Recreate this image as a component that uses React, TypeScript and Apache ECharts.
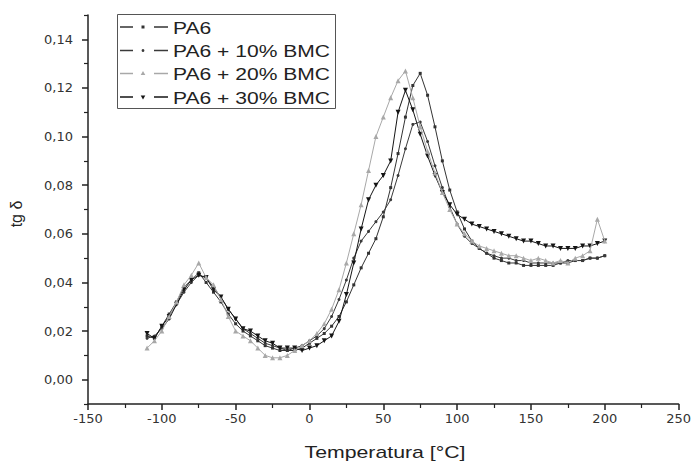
import React, { useEffect, useRef } from "react";
import * as echarts from "echarts";

const temps = [-110,-105,-100,-95,-90,-85,-80,-75,-70,-65,-60,-55,-50,-45,-40,-35,-30,-25,-20,-15,-10,-5,0,5,10,15,20,25,30,35,40,45,50,55,60,65,70,75,80,85,90,95,100,105,110,115,120,125,130,135,140,145,150,155,160,165,170,175,180,185,190,195,200];

const pa6 = [0.018,0.017,0.022,0.027,0.032,0.038,0.041,0.044,0.040,0.036,0.032,0.027,0.023,0.020,0.018,0.016,0.014,0.013,0.012,0.012,0.012,0.013,0.015,0.017,0.019,0.022,0.026,0.032,0.039,0.046,0.052,0.058,0.067,0.079,0.093,0.108,0.121,0.126,0.117,0.104,0.090,0.078,0.069,0.062,0.057,0.054,0.052,0.050,0.049,0.048,0.048,0.047,0.047,0.047,0.047,0.047,0.048,0.048,0.049,0.049,0.050,0.050,0.051];
const pa6bmc10 = [0.017,0.018,0.021,0.025,0.031,0.036,0.040,0.043,0.042,0.038,0.034,0.029,0.025,0.021,0.019,0.017,0.015,0.014,0.013,0.012,0.013,0.014,0.016,0.018,0.021,0.026,0.033,0.041,0.050,0.057,0.061,0.065,0.069,0.074,0.084,0.095,0.105,0.106,0.098,0.088,0.079,0.071,0.064,0.059,0.056,0.054,0.052,0.051,0.050,0.050,0.049,0.049,0.048,0.048,0.048,0.048,0.048,0.049,0.049,0.049,0.050,0.050,0.051];
const pa6bmc20 = [0.013,0.016,0.020,0.026,0.032,0.039,0.043,0.048,0.042,0.039,0.033,0.026,0.020,0.018,0.016,0.013,0.010,0.009,0.009,0.010,0.012,0.014,0.016,0.019,0.023,0.029,0.037,0.048,0.060,0.072,0.086,0.100,0.108,0.116,0.123,0.127,0.116,0.104,0.094,0.085,0.077,0.070,0.064,0.060,0.057,0.055,0.054,0.053,0.052,0.051,0.051,0.050,0.049,0.050,0.049,0.048,0.049,0.048,0.050,0.051,0.053,0.066,0.057];
const pa6bmc30 = [0.019,0.017,0.022,0.026,0.031,0.037,0.041,0.043,0.042,0.037,0.034,0.029,0.025,0.021,0.020,0.018,0.016,0.015,0.013,0.013,0.013,0.012,0.013,0.014,0.016,0.018,0.024,0.035,0.048,0.062,0.074,0.080,0.084,0.090,0.110,0.119,0.111,0.101,0.092,0.084,0.077,0.072,0.068,0.066,0.064,0.063,0.062,0.061,0.060,0.059,0.058,0.057,0.057,0.056,0.055,0.055,0.054,0.054,0.054,0.055,0.055,0.056,0.057];

const seriesNames = ["PA6", "PA6 + 10% BMC", "PA6 + 20% BMC", "PA6 + 30% BMC"];
const yMajorTicks = [0, 0.02, 0.04, 0.06, 0.08, 0.1, 0.12, 0.14];
const yMinorTicks = [-0.01, 0.01, 0.03, 0.05, 0.07, 0.09, 0.11, 0.13, 0.15];

const FONT = "Liberation Sans, Arial, sans-serif";
const LABEL_FONT = "DejaVu Sans, Liberation Sans, sans-serif";

export default function App() {
  const ref = useRef<HTMLDivElement>(null);
  useEffect(() => {
    if (!ref.current) return;
    const chart = echarts.init(ref.current, null, { renderer: "svg" });
    const pair = (vals: number[]) => temps.map((t, i) => [t, vals[i]]);
    const styles = [
      { color: "#333333", symbol: "rect", size: 3, rot: 0 },
      { color: "#3a3a3a", symbol: "circle", size: 3, rot: 0 },
      { color: "#a8a8a8", symbol: "triangle", size: 5, rot: 0 },
      { color: "#151515", symbol: "triangle", size: 5, rot: 180 },
    ];
    const datas = [pa6, pa6bmc10, pa6bmc20, pa6bmc30];
    const axisLine = { show: true, onZero: false, lineStyle: { color: "#222", width: 1.5 } };

    // hand-drawn legend (box, dashes, marker, stretched text)
    const rowY = [27, 50.5, 73.5, 97];
    const legendItems: any[] = [
      { type: "rect", shape: { x: 117.5, y: 14.5, width: 218, height: 94 }, style: { fill: "#fff", stroke: "#555", lineWidth: 1 }, z: 10 },
    ];
    seriesNames.forEach((name, i) => {
      const y = rowY[i];
      const c = styles[i].color;
      legendItems.push({ type: "line", shape: { x1: 120, y1: y, x2: 133, y2: y }, style: { stroke: c, lineWidth: 1.5 }, z: 11 });
      legendItems.push({ type: "line", shape: { x1: 154, y1: y, x2: 168, y2: y }, style: { stroke: c, lineWidth: 1.5 }, z: 11 });
      let marker: any;
      if (i === 0) marker = { type: "rect", shape: { x: 141.5, y: y - 1.5, width: 3, height: 3 }, style: { fill: c } };
      else if (i === 1) marker = { type: "circle", shape: { cx: 143, cy: y, r: 1.4 }, style: { fill: c } };
      else if (i === 2) marker = { type: "polygon", shape: { points: [[143, y - 2.5], [145.3, y + 1.5], [140.7, y + 1.5]] }, style: { fill: c } };
      else marker = { type: "polygon", shape: { points: [[143, y + 2.5], [145.3, y - 1.5], [140.7, y - 1.5]] }, style: { fill: c } };
      marker.z = 11;
      legendItems.push(marker);
      legendItems.push({
        type: "text",
        x: 173,
        y: y + 1,
        scaleX: 1.24,
        z: 11,
        style: { text: name, fontFamily: FONT, fontSize: 17, fill: "#222", align: "left", verticalAlign: "middle" },
      });
    });

    chart.setOption({
      animation: false,
      backgroundColor: "#fff",
      grid: { left: 88, right: 15, top: 15, bottom: 60 },
      xAxis: {
        type: "value",
        min: -150,
        max: 250,
        interval: 50,
        axisLine,
        axisTick: { show: true, inside: false, length: 6, lineStyle: { color: "#222", width: 1.5 } },
        minorTick: { show: true, splitNumber: 2, length: 4, lineStyle: { color: "#222", width: 1.2 } },
        splitLine: { show: false },
        axisLabel: { fontFamily: LABEL_FONT, fontSize: 13, color: "#333", margin: 8 },
      },
      yAxis: [
        {
          type: "value",
          min: -0.01,
          max: 0.15,
          axisLine,
          axisTick: { show: true, length: 6, customValues: yMajorTicks, lineStyle: { color: "#222", width: 1.5 } },
          axisLabel: {
            customValues: yMajorTicks,
            fontFamily: LABEL_FONT,
            fontSize: 13,
            color: "#333",
            margin: 15,
            formatter: (v: number) => v.toFixed(2).replace(".", ","),
          },
          splitLine: { show: false },
        },
        {
          type: "value",
          position: "left",
          min: -0.01,
          max: 0.15,
          axisLine: { show: false, onZero: false },
          axisTick: { show: true, length: 4, customValues: yMinorTicks, lineStyle: { color: "#222", width: 1.2 } },
          axisLabel: { show: false },
          splitLine: { show: false },
        },
      ],
      graphic: [
        {
          type: "text",
          x: 385,
          y: 452,
          scaleX: 1.25,
          style: { text: "Temperatura [°C]", fontFamily: FONT, fontSize: 17, fill: "#222", align: "center", verticalAlign: "middle" },
        },
        {
          type: "text",
          x: 16,
          y: 214,
          rotation: Math.PI / 2,
          style: { text: "tg δ", fontFamily: FONT, fontSize: 16, fill: "#222", align: "center", verticalAlign: "middle" },
        },
        ...legendItems,
      ],
      series: seriesNames.map((name, i) => ({
        name,
        type: "line",
        data: pair(datas[i]),
        symbol: styles[i].symbol,
        symbolSize: styles[i].size,
        symbolRotate: styles[i].rot,
        showSymbol: true,
        lineStyle: { color: styles[i].color, width: 1 },
        itemStyle: { color: styles[i].color },
        z: i === 2 ? 3 : 2,
      })),
    });
    return () => chart.dispose();
  }, []);
  return <div ref={ref} style={{ width: 694, height: 464, position: "absolute", left: 0, top: 0 }} />;
}
